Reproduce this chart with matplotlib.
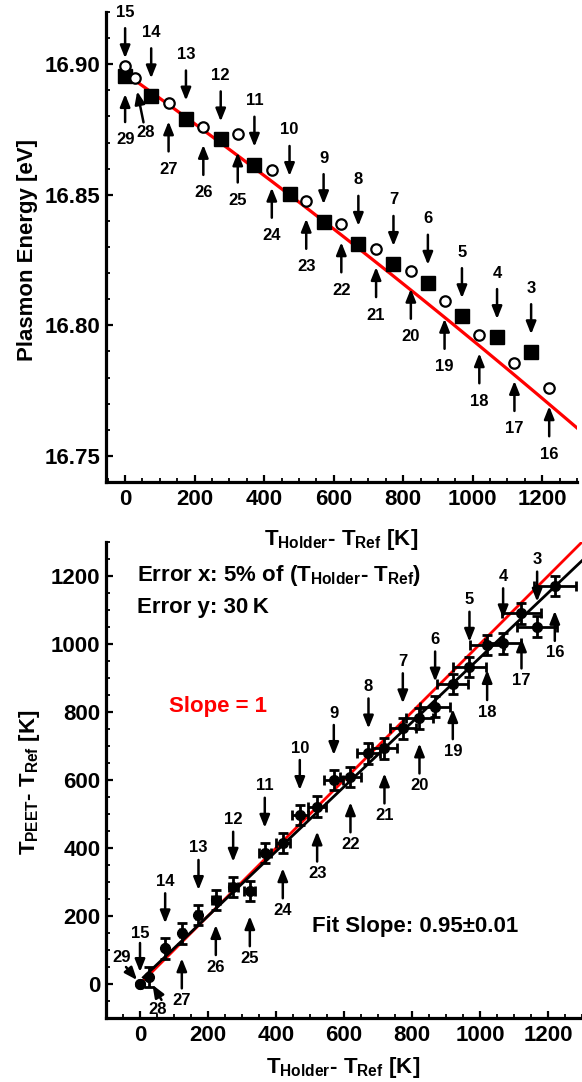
import numpy as np
import matplotlib as mpl
mpl.use('Agg')
import matplotlib.pyplot as plt
from matplotlib.ticker import MultipleLocator, FormatStrFormatter
from matplotlib.transforms import offset_copy

plt.rcParams['font.family'] = 'Liberation Sans'
plt.rcParams['font.weight'] = 'bold'
plt.rcParams['mathtext.fontset'] = 'custom'
plt.rcParams['mathtext.rm'] = 'Liberation Sans:bold'
plt.rcParams['mathtext.it'] = 'Liberation Sans:bold'
plt.rcParams['mathtext.bf'] = 'Liberation Sans:bold'

# ---- top panel: plasmon energy vs holder temperature ----
heat_labels = [15, 14, 13, 12, 11, 10, 9, 8, 7, 6, 5, 4, 3]
heat_T = [0, 75, 175, 275, 372, 473, 571, 671, 772, 871, 969, 1070, 1168]
heat_E = [16.8954, 16.8877, 16.8792, 16.8712, 16.8615, 16.8503, 16.8395,
          16.8312, 16.8235, 16.8163, 16.8035, 16.7955, 16.7897]

cool_labels = [29, 28, 27, 26, 25, 24, 23, 22, 21, 20, 19, 18, 17, 16]
cool_T = [0, 27, 125, 225, 324, 422, 521, 622, 722, 822, 919, 1019, 1120, 1220]
cool_E = [16.8993, 16.8946, 16.885, 16.876, 16.8731, 16.8596, 16.8477,
          16.8387, 16.8292, 16.8209, 16.8094, 16.7962, 16.7856, 16.7759]

# quadratic fit shown as red line (highest power first)
energy_fit = [-7.35e-9, -0.949e-4, 16.8965]
energy_fit_range = [0, 1300]

# ---- bottom panel: PEET temperature vs holder temperature ----
peet_heat_T = [0, 74, 172, 274, 367, 470, 570, 672, 773, 868, 969, 1068, 1168]
peet_heat = [0, 105, 203, 286, 386, 497, 600, 678, 752, 816, 933, 1002, 1051]
peet_cool_T = [0, 25, 123, 223, 323, 420, 521, 619, 719, 822, 920, 1021, 1122, 1220]
peet_cool = [0, 21, 149, 247, 273, 414, 522, 608, 693, 781, 882, 997, 1090, 1171]

x_err_frac = 0.05
y_err = 30
fit_slope = 0.95
fit_intercept = 10
line_range = [10, 1300]

ARROW = dict(arrowstyle='-|>,head_length=0.75,head_width=0.3', color='black',
             lw=1.8, shrinkA=0, shrinkB=0)


def label_points(fig, ax, xs, ys, labels, up, tip, tail, txt, special):
    """Numbered arrows: up=True puts the arrow above the point pointing down"""
    d = 1 if up else -1
    for x, y, lab in zip(xs, ys, labels):
        if lab in special:
            p_tip, p_tail, p_txt = special[lab]
        else:
            p_tip, p_tail, p_txt = (0, d * tip), (0, d * tail), (0, d * txt)
        tr_tip = offset_copy(ax.transData, fig=fig, x=p_tip[0], y=p_tip[1], units='dots')
        tr_tail = offset_copy(ax.transData, fig=fig, x=p_tail[0], y=p_tail[1], units='dots')
        ax.annotate('', xy=(x, y), xycoords=tr_tip, xytext=(x, y),
                    textcoords=tr_tail, arrowprops=ARROW)
        ax.annotate(str(lab), xy=(x, y), xytext=p_txt, textcoords='offset pixels',
                    ha='center', va='center', fontsize=12, fontweight='bold')


def style_axes(ax):
    for s in ['top', 'right']:
        ax.spines[s].set_visible(False)
    for s in ['left', 'bottom']:
        ax.spines[s].set_linewidth(2.3)
    ax.tick_params(which='major', direction='in', length=5, width=1.6, labelsize=16)
    ax.tick_params(which='minor', direction='in', length=3, width=1.3)
    ax.tick_params(axis='x', pad=5)
    ax.tick_params(axis='y', pad=4)
    for t in ax.get_xticklabels() + ax.get_yticklabels():
        t.set_fontweight('bold')


fig = plt.figure(figsize=(5.82, 10.82), dpi=100)

# top panel
ax1 = fig.add_axes([106 / 582, 1 - 482 / 1082, 471 / 582, 470 / 1082])
tt = np.linspace(energy_fit_range[0], energy_fit_range[1], 200)
ax1.plot(tt, np.polyval(energy_fit, tt), color='red', lw=2.3, zorder=2)
ax1.plot(heat_T, heat_E, 's', color='black', ms=9.5, zorder=3)
ax1.plot(cool_T, cool_E, 'o', mfc='white', mec='black', mew=1.6, ms=7.5, zorder=3)
ax1.set_xlim(-55, 1300)
ax1.set_ylim(16.74, 16.92)
ax1.xaxis.set_major_locator(MultipleLocator(200))
ax1.xaxis.set_minor_locator(MultipleLocator(50))
ax1.yaxis.set_major_locator(MultipleLocator(0.05))
ax1.yaxis.set_minor_locator(MultipleLocator(0.01))
ax1.yaxis.set_major_formatter(FormatStrFormatter('%.2f'))
style_axes(ax1)

label_points(fig, ax1, heat_T, heat_E, heat_labels, True, 18, 48, 64, {})
label_points(fig, ax1, cool_T, cool_E, cool_labels, False, 18, 48, 66,
             {29: ((0, -28), (0, -56), (1, -73)),
              28: ((2.7, -13), (9, -44), (11, -54))})

fig.text(28 / 582, 1 - 250 / 1082, 'Plasmon Energy [eV]', rotation=90,
         ha='center', va='center', fontsize=16, fontweight='bold')
fig.text(341 / 582, 1 - 540 / 1082, r'$T_{Holder}$- $T_{Ref}$ [K]',
         ha='center', va='center', fontsize=16)

# bottom panel
ax2 = fig.add_axes([106 / 582, 1 - 1018 / 1082, 476 / 582, 476 / 1082])
lt = np.array(line_range, dtype=float)
ax2.plot(lt, lt, color='red', lw=2.0, zorder=2)
ax2.plot(lt, fit_slope * lt + fit_intercept, color='black', lw=2.0, zorder=2)
for xs, ys in [(peet_heat_T, peet_heat), (peet_cool_T, peet_cool)]:
    xs = np.array(xs, dtype=float)
    yerr = np.where(xs == 0, 0, y_err)
    ax2.errorbar(xs, ys, xerr=x_err_frac * xs, yerr=yerr, fmt='o', color='black',
                 ms=7, elinewidth=2, capsize=3.5, capthick=2, zorder=3)
ax2.set_xlim(-100, 1300)
ax2.set_ylim(-100, 1300)
ax2.xaxis.set_major_locator(MultipleLocator(200))
ax2.xaxis.set_minor_locator(MultipleLocator(50))
ax2.yaxis.set_major_locator(MultipleLocator(200))
ax2.yaxis.set_minor_locator(MultipleLocator(50))
style_axes(ax2)

label_points(fig, ax2, peet_heat_T, peet_heat, heat_labels, True, 25, 55, 67,
             {15: ((0, 12), (0, 41), (0, 51))})
label_points(fig, ax2, peet_cool_T, peet_cool, cool_labels, False, 25, 55, 67,
             {29: ((-3, 4), (-14, 17), (-18, 27)),
              28: ((4, -8), (13, -23), (9, -33))})

ax2.text(-10, 1200, r'Error x: 5% of ($T_{Holder}$- $T_{Ref}$)', ha='left',
         va='center', fontsize=16)
ax2.text(-10, 1106, 'Error y: 30\u2009K', ha='left', va='center', fontsize=16)
ax2.text(229, 815, 'Slope = 1', color='red', ha='center', va='center', fontsize=16)
ax2.text(507, 168, 'Fit Slope: 0.95\u00b10.01', ha='left', va='center', fontsize=16)

fig.text(30 / 582, 1 - 782 / 1082, r'$T_{PEET}$- $T_{Ref}$ [K]', rotation=90,
         ha='center', va='center', fontsize=16)
fig.text(343 / 582, 1 - 1067 / 1082, r'$T_{Holder}$- $T_{Ref}$ [K]',
         ha='center', va='center', fontsize=16)

fig.savefig('out.png', dpi=100)
